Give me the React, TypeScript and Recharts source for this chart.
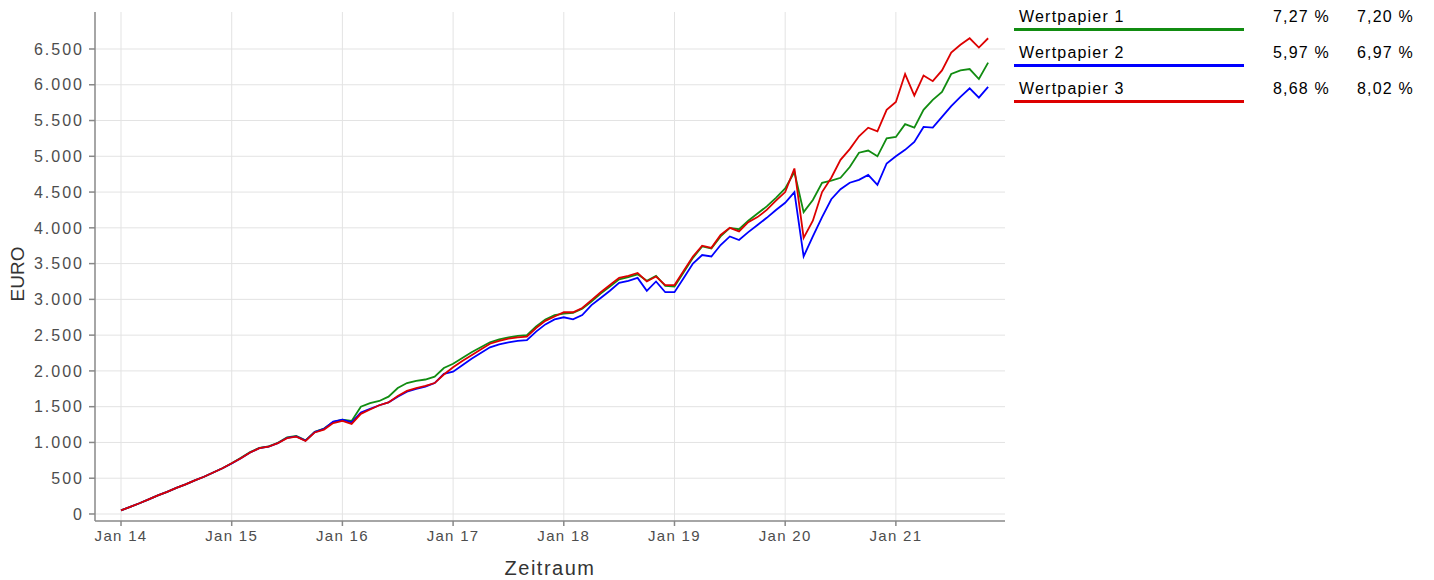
import { LineChart, Line, XAxis, YAxis, CartesianGrid } from 'recharts'

// Monatswerte (Jan 14 = Index 0) eines Sparplans
const wp1 = [
  50, 100, 150, 205, 260, 310, 365, 415, 470, 520, 580, 640,
  710, 785, 865, 925, 945, 995, 1070, 1090, 1030, 1150, 1195, 1285,
  1320, 1300, 1500, 1550, 1580, 1640, 1760, 1830, 1860, 1880, 1920, 2040,
  2100, 2180, 2260, 2330, 2400, 2440, 2470, 2490, 2500, 2620, 2720, 2780,
  2800, 2810, 2870, 2970, 3080, 3180, 3280, 3310, 3350, 3260, 3330, 3190,
  3180, 3380, 3580, 3740, 3710, 3880, 4000, 3980, 4100, 4200, 4300, 4420,
  4550, 4780, 4220, 4390, 4630, 4660, 4700, 4850, 5050, 5080, 5000, 5250,
  5270, 5450, 5400, 5650, 5790, 5900, 6150, 6200, 6220, 6080, 6310,
]
const wp2 = [
  50, 100, 150, 205, 260, 310, 365, 415, 470, 520, 580, 640,
  705, 780, 860, 920, 940, 990, 1065, 1085, 1025, 1145, 1190, 1290,
  1320, 1280, 1420, 1470, 1520, 1560, 1640, 1710, 1750, 1780, 1830, 1960,
  1990, 2080, 2170, 2250, 2330, 2370, 2400, 2420, 2430, 2550, 2650, 2720,
  2750, 2720, 2780, 2920, 3020, 3120, 3230, 3260, 3300, 3120, 3250, 3100,
  3100, 3300, 3500, 3620, 3600, 3760, 3880, 3830, 3940, 4040, 4140, 4250,
  4350, 4500, 3600, 3880, 4150, 4400, 4540, 4630, 4670, 4740, 4600, 4900,
  5000, 5090, 5200, 5410, 5400, 5550, 5700, 5830, 5950, 5820, 5970,
]
const wp3 = [
  50, 100, 150, 205, 260, 310, 365, 415, 470, 520, 580, 640,
  710, 780, 860, 920, 940, 990, 1060, 1080, 1020, 1140, 1180, 1270,
  1300, 1260, 1400, 1460, 1520, 1560, 1650, 1720, 1760, 1790, 1830, 1950,
  2050, 2140, 2220, 2300, 2380, 2420, 2450, 2470, 2480, 2600, 2700, 2760,
  2820, 2820, 2880, 2990, 3100, 3200, 3300, 3330, 3370, 3250, 3320, 3200,
  3200, 3400, 3600, 3750, 3720, 3900, 4000, 3950, 4080, 4150, 4250, 4380,
  4500, 4830, 3860, 4100, 4500, 4700, 4950, 5100, 5280, 5400, 5350, 5650,
  5760, 6150, 5850, 6130, 6050, 6200, 6450, 6560, 6650, 6520, 6650,
]

const seriesNames = ['Wertpapier 1', 'Wertpapier 2', 'Wertpapier 3']
const seriesColors = ['#118c11', '#0000ff', '#dd0000']
const renditeA = ['7,27 %', '5,97 %', '8,68 %']
const renditeB = ['7,20 %', '6,97 %', '8,02 %']

const xTicks = [0, 12, 24, 36, 48, 60, 72, 84]
const xTickLabels = ['Jan 14', 'Jan 15', 'Jan 16', 'Jan 17', 'Jan 18', 'Jan 19', 'Jan 20', 'Jan 21']
const yTicks = [0, 500, 1000, 1500, 2000, 2500, 3000, 3500, 4000, 4500, 5000, 5500, 6000, 6500]

const chartData = wp1.map((v, i) => ({ m: i, wp1: v, wp2: wp2[i], wp3: wp3[i] }))

const font = '"Liberation Sans", Arial, sans-serif'
const fmtEuro = (v: number) => String(v).replace(/\B(?=(\d{3})+(?!\d))/g, '.')

function YTitle() {
  return (
    <text
      x={0} y={0}
      transform="translate(24, 274) rotate(-90)"
      textAnchor="middle"
      fontSize={19}
      fontFamily={font}
      fill="#333"
    >
      EURO
    </text>
  )
}

function XTitle() {
  return (
    <text x={550} y={575} textAnchor="middle" fontSize={20} fontFamily={font} fill="#333" letterSpacing={1.5}>
      Zeitraum
    </text>
  )
}

export default function App() {
  return (
    <div style={{ position: 'fixed', left: 0, top: 0, width: 1434, height: 580, background: '#fff' }}>
      <LineChart width={1010} height={580} data={chartData} margin={{ top: 12, right: 5, left: 0, bottom: 0 }}>
        <CartesianGrid stroke="#e3e3e3" strokeWidth={1} horizontalValues={yTicks} verticalValues={xTicks} />
        <XAxis
          dataKey="m"
          type="number"
          domain={[-2.82, 95.83]}
          ticks={xTicks}
          tickFormatter={(v: number) => xTickLabels[xTicks.indexOf(v)]}
          height={59}
          stroke="#888"
          strokeWidth={1.5}
          tickSize={5}
          tickMargin={4}
          tick={{ fill: '#4d4d4d', fontSize: 15, fontFamily: font, letterSpacing: 1.3 }}
          label={<XTitle />}
        />
        <YAxis
          type="number"
          domain={[-98, 7017]}
          ticks={yTicks}
          tickFormatter={fmtEuro}
          width={95}
          stroke="#888"
          strokeWidth={1.5}
          tickSize={6}
          tickMargin={5}
          tick={{ fill: '#4d4d4d', fontSize: 16, fontFamily: font, letterSpacing: 2 }}
          label={<YTitle />}
        />
        {['wp1', 'wp2', 'wp3'].map((k, i) => (
          <Line
            key={k}
            type="linear"
            dataKey={k}
            stroke={seriesColors[i]}
            strokeWidth={1.8}
            dot={false}
            isAnimationActive={false}
          />
        ))}
      </LineChart>
      {seriesNames.map((name, i) => (
        <div key={name} style={{ position: 'absolute', left: 1014, top: 6 + i * 35.8, width: 410, fontFamily: font, fontSize: 16, color: '#000', letterSpacing: 1.2 }}>
          <div style={{ position: 'absolute', left: 5, top: 0, lineHeight: '21px', whiteSpace: 'nowrap' }}>{name}</div>
          <div style={{ position: 'absolute', left: 0, top: 22, width: 230, height: 3, background: seriesColors[i] }} />
          <div style={{ position: 'absolute', right: 94, top: 0, lineHeight: '21px', whiteSpace: 'nowrap' }}>{renditeA[i]}</div>
          <div style={{ position: 'absolute', right: 10, top: 0, lineHeight: '21px', whiteSpace: 'nowrap' }}>{renditeB[i]}</div>
        </div>
      ))}
    </div>
  )
}
